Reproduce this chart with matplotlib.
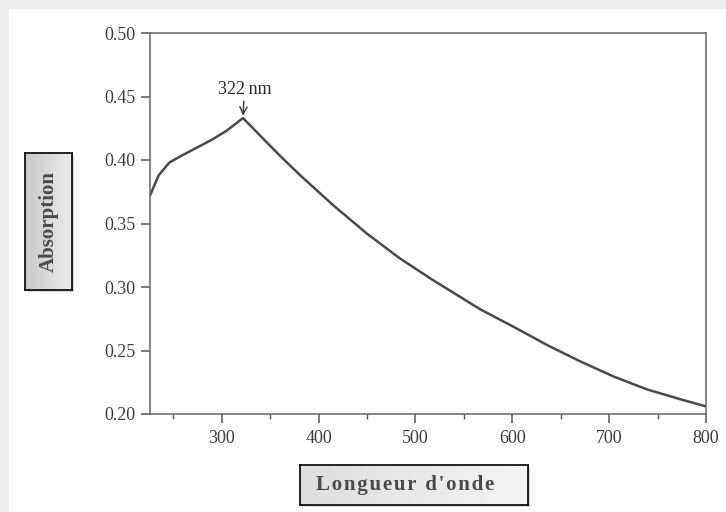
import numpy as np
import matplotlib
matplotlib.use("Agg")
import matplotlib.pyplot as plt
from matplotlib.patches import Rectangle
from matplotlib.ticker import MultipleLocator

# absorption spectrum
wavelength = [226, 235, 246, 260, 275, 290, 305, 322, 340, 360, 381, 415,
              450, 484, 518, 553, 567, 601, 636, 670, 705, 739, 774, 800]
absorption = [0.372, 0.388, 0.398, 0.404, 0.410, 0.416, 0.423, 0.433, 0.419,
              0.4035, 0.388, 0.3645, 0.342, 0.3225, 0.3055, 0.289, 0.2824,
              0.2688, 0.2543, 0.2415, 0.2294, 0.2194, 0.2115, 0.206]
peak_nm = 322
peak_abs = 0.433
xticks = [300, 400, 500, 600, 700, 800]
yticks = [0.20, 0.25, 0.30, 0.35, 0.40, 0.45, 0.50]

W, H = 726, 512
plt.rcParams['font.family'] = ['Liberation Serif', 'DejaVu Serif']

fig = plt.figure(figsize=(W / 100, H / 100), dpi=100)
fig.patch.set_facecolor('#ececec')
fig.patches.append(Rectangle((9 / W, 0), 1, 1 - 9 / H, transform=fig.transFigure,
                             facecolor='white', edgecolor='none', zorder=-10))


def px_axes(x0, y0, x1, y1, **kw):
    return fig.add_axes([x0 / W, 1 - y1 / H, (x1 - x0) / W, (y1 - y0) / H], **kw)


ax = px_axes(150, 33, 706, 414)
ax.patch.set_alpha(0)
ax.plot(wavelength, absorption, color='#4a4a4a', lw=1.8)
ax.set_xlim(226, 800)
ax.set_ylim(0.20, 0.50)
ax.set_xticks(xticks)
ax.xaxis.set_minor_locator(MultipleLocator(50))
ax.set_yticks(yticks)
ax.set_yticklabels([f"{v:.2f}" for v in yticks])
for s in ax.spines.values():
    s.set_color('#666666')
    s.set_linewidth(1.1)
ax.tick_params(which='major', direction='out', length=6.5, width=1.1,
               color='#555555', labelsize=13, labelcolor='#3c3c3c', pad=4)
ax.tick_params(axis='x', which='major', pad=5)
ax.tick_params(which='minor', direction='out', length=3.5, width=1, color='#555555')

ax.annotate(f"{peak_nm}\u2009nm", xy=(peak_nm, peak_abs + 0.002),
            xytext=(peak_nm + 1.5, peak_abs + 0.0155), ha='center', va='bottom',
            fontsize=13, color='#2a2a2a',
            arrowprops=dict(arrowstyle='->', color='#333333', lw=1.0,
                            shrinkA=0, shrinkB=0))


def label_box(x0, y0, x1, y1, text, rotation, size, c0, c1, tx=0.5):
    # drop shadow
    sh = px_axes(x0 + 2, y0 + 2, x1 + 2, y1 + 2)
    sh.set_axis_off()
    sh.add_patch(Rectangle((0, 0), 1, 1, transform=sh.transAxes,
                           facecolor='#bdbdbd', edgecolor='none', alpha=0.6))
    bx = px_axes(x0, y0, x1, y1)
    grad = np.linspace(0, 1, 64)[None, :]
    cmap = matplotlib.colors.LinearSegmentedColormap.from_list('g', [c0, c1])
    bx.imshow(grad, aspect='auto', cmap=cmap, extent=[0, 1, 0, 1])
    bx.set_xticks([])
    bx.set_yticks([])
    for s in bx.spines.values():
        s.set_color('#111111')
        s.set_linewidth(1.3)
    bx.text(tx, 0.5, text, transform=bx.transAxes, ha='center', va='center',
            rotation=rotation, fontsize=size, fontweight='bold', color='#4a4a4a')


label_box(25, 153, 72, 290, "Absorption", 90, 15, '#c9c9c9', '#ececec')
label_box(300, 465, 528, 505, "\u200a".join("Longueur d'onde"), 0, 15,
          '#dedede', '#f4f4f4', tx=0.46)

fig.savefig('out.png', dpi=100)
